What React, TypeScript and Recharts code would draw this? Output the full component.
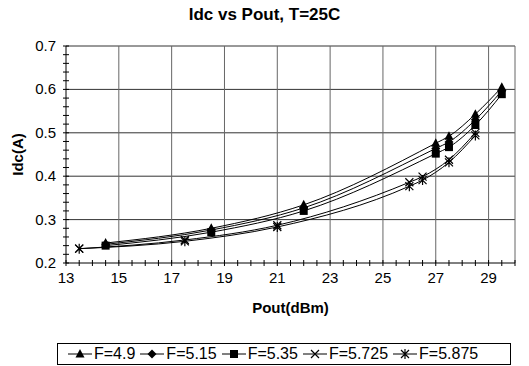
import { LineChart, Line, XAxis, YAxis, ReferenceLine, Legend, Label } from 'recharts';

// Pout (dBm) sample points for the two sweeps
const sweepA = [14.5, 18.5, 22, 27, 27.5, 28.5, 29.5];
const sweepB = [13.5, 17.5, 21, 26, 26.5, 27.5, 28.5];

// Idc (A) per frequency
const idcF490 = [0.246, 0.28, 0.334, 0.476, 0.492, 0.543, 0.605];
const idcF515 = [0.243, 0.276, 0.327, 0.464, 0.479, 0.53, 0.597];
const idcF535 = [0.24, 0.271, 0.32, 0.452, 0.467, 0.518, 0.589];
const idcF5725 = [0.233, 0.253, 0.287, 0.386, 0.399, 0.438, 0.5];
const idcF5875 = [0.233, 0.25, 0.283, 0.377, 0.391, 0.432, 0.494];

const xLabels = [13, 15, 17, 19, 21, 23, 25, 27, 29];
const yLabels = [0.2, 0.3, 0.4, 0.5, 0.6, 0.7];

const FONT = '"Liberation Sans", Arial, sans-serif';

type MarkerKind = 'triangle' | 'diamond' | 'square' | 'cross' | 'star';

const series: { name: string; xs: number[]; ys: number[]; marker: MarkerKind }[] = [
  { name: 'F=4.9', xs: sweepA, ys: idcF490, marker: 'triangle' },
  { name: 'F=5.15', xs: sweepA, ys: idcF515, marker: 'diamond' },
  { name: 'F=5.35', xs: sweepA, ys: idcF535, marker: 'square' },
  { name: 'F=5.725', xs: sweepB, ys: idcF5725, marker: 'cross' },
  { name: 'F=5.875', xs: sweepB, ys: idcF5875, marker: 'star' },
];

const xTicks = Array.from({ length: 35 }, (_, i) => 13 + i * 0.5);
const yTicks = Array.from({ length: 26 }, (_, i) => Number((0.2 + i * 0.02).toFixed(2)));

function Marker({ kind, cx, cy }: { kind: MarkerKind; cx: number; cy: number }) {
  switch (kind) {
    case 'triangle':
      return <path d={`M${cx},${cy - 5}L${cx + 4.5},${cy + 3.5}L${cx - 4.5},${cy + 3.5}Z`} fill="#000" />;
    case 'diamond':
      return <path d={`M${cx},${cy - 4.5}L${cx + 4.5},${cy}L${cx},${cy + 4.5}L${cx - 4.5},${cy}Z`} fill="#000" />;
    case 'square':
      return <rect x={cx - 4} y={cy - 4} width={8} height={8} fill="#000" />;
    case 'cross':
      return (
        <path
          d={`M${cx - 4},${cy - 4}L${cx + 4},${cy + 4}M${cx + 4},${cy - 4}L${cx - 4},${cy + 4}`}
          stroke="#000"
          strokeWidth={1.2}
          fill="none"
        />
      );
    default:
      return (
        <path
          d={`M${cx - 4},${cy - 4}L${cx + 4},${cy + 4}M${cx + 4},${cy - 4}L${cx - 4},${cy + 4}M${cx},${cy - 5}L${cx},${cy + 5}`}
          stroke="#000"
          strokeWidth={1.2}
          fill="none"
        />
      );
  }
}

function XTick({ x, y, payload }: any) {
  const v = payload.value as number;
  const major = xLabels.includes(v);
  return (
    <g>
      <line x1={x} x2={x} y1={y - 3} y2={y + 3} stroke="#000" />
      {major && (
        <text x={x} y={y + 20} textAnchor="middle" fontSize={15} fill="#000" fontFamily={FONT}>
          {v}
        </text>
      )}
    </g>
  );
}

function YTick({ x, y, payload }: any) {
  const v = payload.value as number;
  const major = yLabels.some((l) => Math.abs(l - v) < 1e-6);
  return (
    <g>
      <line x1={x - 3} x2={x + 3} y1={y} y2={y} stroke="#000" />
      {major && (
        <text x={x - 10} y={y + 5} textAnchor="end" fontSize={15} fill="#000" fontFamily={FONT}>
          {v.toFixed(1)}
        </text>
      )}
    </g>
  );
}

function LegendBox() {
  return (
    <div style={{ height: 29, paddingTop: 6, boxSizing: 'border-box' }}>
      <div
        style={{
          marginLeft: 57,
          width: 454,
          height: 22,
          border: '1px solid #000',
          boxSizing: 'border-box',
          display: 'flex',
          alignItems: 'center',
          gap: 5,
          paddingLeft: 10,
          fontFamily: FONT,
          fontSize: 16,
          color: '#000',
        }}
      >
        {series.map((s) => (
          <div key={s.name} style={{ display: 'flex', alignItems: 'center', gap: 2 }}>
            <svg width={24} height={12}>
              <line x1={0} x2={24} y1={6} y2={6} stroke="#000" />
              <Marker kind={s.marker} cx={12} cy={6} />
            </svg>
            <span>{s.name}</span>
          </div>
        ))}
      </div>
    </div>
  );
}

export default function App() {
  return (
    <div style={{ position: 'relative', width: 529, height: 366, background: '#fff', fontFamily: FONT }}>
      <style>{'body{margin:0}'}</style>
      <div
        style={{
          position: 'absolute',
          top: 5,
          left: 0,
          width: 529,
          textAlign: 'center',
          fontSize: 17,
          fontWeight: 'bold',
          color: '#000',
        }}
      >
        Idc vs Pout, T=25C
      </div>
      <LineChart width={529} height={366} margin={{ top: 46, right: 14, left: 0, bottom: 0 }}>
        <XAxis
          type="number"
          dataKey="x"
          domain={[13, 30]}
          ticks={xTicks}
          interval={0}
          tick={<XTick />}
          tickLine={false}
          tickSize={0}
          tickMargin={0}
          height={74}
          axisLine={{ stroke: '#000' }}
        >
          <Label
            content={({ viewBox }: any) => (
              <text
                x={viewBox.x + viewBox.width / 2}
                y={viewBox.y + 50}
                textAnchor="middle"
                fontSize={15}
                fontWeight="bold"
                fontFamily={FONT}
                fill="#000"
              >
                Pout(dBm)
              </text>
            )}
          />
        </XAxis>
        <YAxis
          type="number"
          domain={[0.2, 0.7]}
          ticks={yTicks}
          interval={0}
          tick={<YTick />}
          tickLine={false}
          tickSize={0}
          tickMargin={0}
          width={66}
          axisLine={{ stroke: '#000' }}
        >
          <Label
            content={({ viewBox }: any) => {
              const cy = viewBox.y + viewBox.height / 2;
              return (
                <text
                  x={23}
                  y={cy}
                  transform={`rotate(-90, 23, ${cy})`}
                  textAnchor="middle"
                  fontSize={15}
                  fontWeight="bold"
                  fontFamily={FONT}
                  fill="#000"
                >
                  Idc(A)
                </text>
              );
            }}
          />
        </YAxis>
        {[0.3, 0.4, 0.5, 0.6, 0.7].map((v) => (
          <ReferenceLine key={`h${v}`} y={v} stroke="#333" />
        ))}
        {[15, 17, 19, 21, 23, 25, 27, 29, 30].map((v) => (
          <ReferenceLine key={`v${v}`} x={v} stroke="#666" />
        ))}
        <Legend verticalAlign="bottom" content={<LegendBox />} wrapperStyle={{ left: 0, width: 529 }} />
        {series.map((s) => (
          <Line
            key={s.name}
            name={s.name}
            data={s.xs.map((x, i) => ({ x, y: s.ys[i] }))}
            dataKey="y"
            type="monotone"
            stroke="#000"
            strokeWidth={1}
            isAnimationActive={false}
            dot={(p: any) => <Marker key={`${s.name}-${p.index}`} kind={s.marker} cx={p.cx} cy={p.cy} />}
            activeDot={false}
          />
        ))}
      </LineChart>
    </div>
  );
}
